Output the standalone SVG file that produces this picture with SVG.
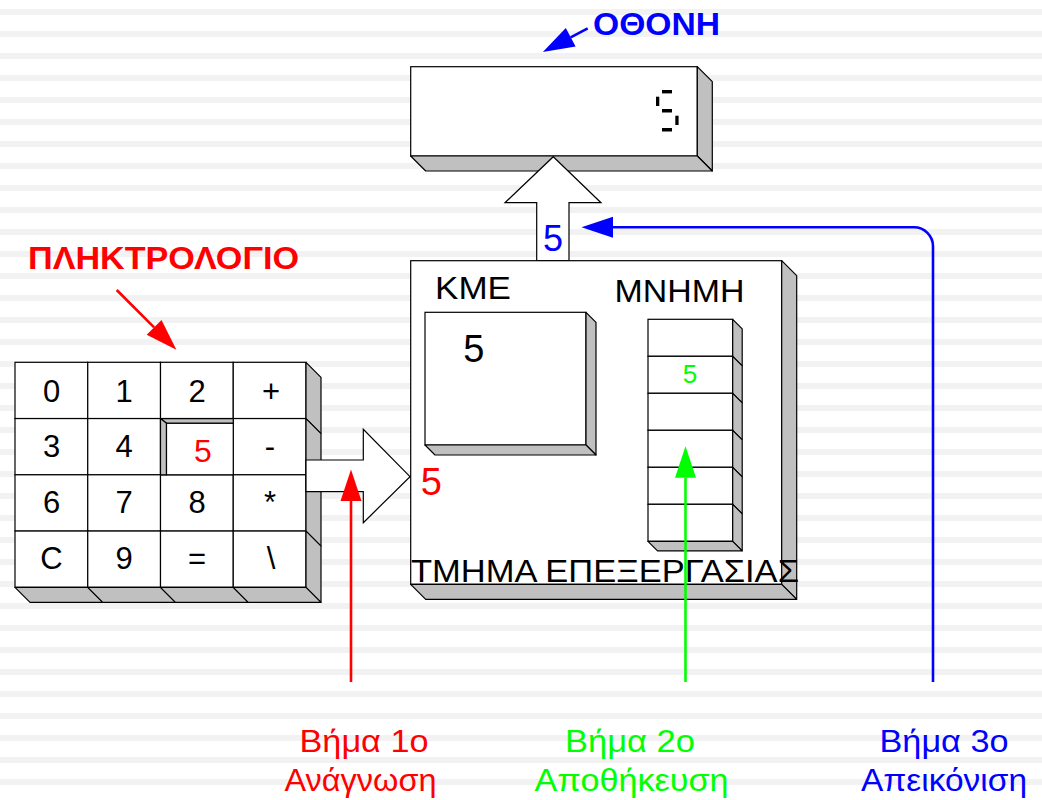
<svg xmlns="http://www.w3.org/2000/svg" width="1042" height="800" viewBox="0 0 1042 800">
<style>
.t{font-family:"Liberation Sans",Arial,sans-serif}
.b{font-weight:bold}
.face{fill:#ffffff;stroke:#000;stroke-width:1.2}
.side{fill:#c0c0c0;stroke:#000;stroke-width:1.2;stroke-linejoin:round}
.key{font-size:31px;text-anchor:middle;fill:#000}
.blk{fill:#ffffff;stroke:#000;stroke-width:1.2;stroke-linejoin:miter}
.seg{fill:#000}
.c{fill:none;stroke-width:2.6}
</style>
<defs>
<pattern id="stripes" patternUnits="userSpaceOnUse" x="0" y="9" width="1042" height="22">
<rect x="0" y="0" width="1042" height="6" fill="#f2f2f2"/>
</pattern>
<marker id="ah-red" markerUnits="userSpaceOnUse" markerWidth="32" markerHeight="22" refX="0" refY="10.5" orient="auto" overflow="visible"><path d="M0,0 L31.5,10.5 L0,21 z" fill="#ff0000"/></marker>
<marker id="ah-green" markerUnits="userSpaceOnUse" markerWidth="32" markerHeight="22" refX="0" refY="10.5" orient="auto" overflow="visible"><path d="M0,0 L31.5,10.5 L0,21 z" fill="#00ff00"/></marker>
<marker id="ah-blue" markerUnits="userSpaceOnUse" markerWidth="32" markerHeight="22" refX="0" refY="10.5" orient="auto" overflow="visible"><path d="M0,0 L31.5,10.5 L0,21 z" fill="#0000ff"/></marker>
</defs>
<rect x="0" y="0" width="1042" height="800" fill="#ffffff"/>
<rect x="0" y="0" width="1042" height="800" fill="url(#stripes)"/>

<g id="screen">
<rect class="face" x="410.7" y="66.7" width="286.6" height="89.3"/>
<polygon class="side" points="697.3,66.7 712.3,81.7 712.3,171 697.3,156"/>
<polygon class="side" points="410.7,156 425.7,171 712.3,171 697.3,156"/>
<rect class="seg" x="662" y="90" width="10" height="3.4"/>
<rect class="seg" x="656" y="96.7" width="3.3" height="9.3"/>
<rect class="seg" x="662" y="109" width="10" height="3.5"/>
<rect class="seg" x="675.3" y="115.7" width="3.3" height="9.3"/>
<rect class="seg" x="662" y="128" width="10" height="3.5"/>
</g>

<g id="screen-label">
<text class="t b" x="593" y="35" font-size="32" fill="#0000ff" textLength="127" lengthAdjust="spacingAndGlyphs">ΟΘΟΝΗ</text>
</g>

<g id="data-to-screen">
<polygon class="blk" points="553.3,156.7 601,202.7 569,202.7 569,260.7 536.7,260.7 536.7,202.7 505,202.7"/>
<text class="t" x="552.9" y="250.5" font-size="36" fill="#0000ff" text-anchor="middle">5</text>
</g>

<g id="processing-unit">
<rect class="face" x="410.7" y="260.7" width="371" height="323.6"/>
<polygon class="side" points="781.7,260.7 796.7,275.7 796.7,599.3 781.7,584.3"/>
<polygon class="side" points="410.7,584.3 425.7,599.3 796.7,599.3 781.7,584.3"/>
</g>

<g id="cpu">
<text class="t" x="435" y="299" font-size="32" fill="#000" textLength="76" lengthAdjust="spacingAndGlyphs">ΚΜΕ</text>
<rect class="face" x="425" y="312.3" width="161" height="132.7"/>
<polygon class="side" points="586,312.3 596,322.3 596,455 586,445"/>
<polygon class="side" points="425,445 435,455 596,455 586,445"/>
<text class="t" x="473.7" y="361.7" font-size="38" fill="#000" text-anchor="middle">5</text>
</g>

<g id="memory">
<text class="t" x="614.5" y="301.5" font-size="32" fill="#000" textLength="130" lengthAdjust="spacingAndGlyphs">ΜΝΗΜΗ</text>
<rect class="face" x="648" y="319.3" width="84.7" height="37"/>
<polygon class="side" points="732.7,319.3 742.2,328.8 742.2,365.8 732.7,356.3"/>
<rect class="face" x="648" y="356.3" width="84.7" height="37"/>
<polygon class="side" points="732.7,356.3 742.2,365.8 742.2,402.8 732.7,393.3"/>
<rect class="face" x="648" y="393.3" width="84.7" height="37"/>
<polygon class="side" points="732.7,393.3 742.2,402.8 742.2,439.8 732.7,430.3"/>
<rect class="face" x="648" y="430.3" width="84.7" height="37"/>
<polygon class="side" points="732.7,430.3 742.2,439.8 742.2,476.8 732.7,467.3"/>
<rect class="face" x="648" y="467.3" width="84.7" height="37"/>
<polygon class="side" points="732.7,467.3 742.2,476.8 742.2,513.8 732.7,504.3"/>
<rect class="face" x="648" y="504.3" width="84.7" height="37"/>
<polygon class="side" points="732.7,504.3 742.2,513.8 742.2,550.8 732.7,541.3"/>
<polygon class="side" points="648,541.3 657.5,550.8 742.2,550.8 732.7,541.3"/>
<text class="t" x="690" y="383" font-size="26" fill="#00ff00" text-anchor="middle">5</text>
</g>

<g id="processing-label">
<text class="t" x="411" y="581.7" font-size="32" fill="#000" textLength="388" lengthAdjust="spacingAndGlyphs">ΤΜΗΜΑ ΕΠΕΞΕΡΓΑΣΙΑΣ</text>
</g>

<g id="keyboard">
<rect class="face" x="15" y="362.3" width="72.75" height="56.25"/>
<rect class="face" x="87.75" y="362.3" width="72.75" height="56.25"/>
<rect class="face" x="160.5" y="362.3" width="72.75" height="56.25"/>
<rect class="face" x="233.25" y="362.3" width="72.75" height="56.25"/>
<rect class="face" x="15" y="418.55" width="72.75" height="56.25"/>
<rect class="face" x="87.75" y="418.55" width="72.75" height="56.25"/>
<rect class="face" x="160.5" y="418.55" width="72.75" height="56.25"/>
<rect class="face" x="233.25" y="418.55" width="72.75" height="56.25"/>
<rect class="face" x="15" y="474.8" width="72.75" height="56.25"/>
<rect class="face" x="87.75" y="474.8" width="72.75" height="56.25"/>
<rect class="face" x="160.5" y="474.8" width="72.75" height="56.25"/>
<rect class="face" x="233.25" y="474.8" width="72.75" height="56.25"/>
<rect class="face" x="15" y="531.05" width="72.75" height="56.25"/>
<rect class="face" x="87.75" y="531.05" width="72.75" height="56.25"/>
<rect class="face" x="160.5" y="531.05" width="72.75" height="56.25"/>
<rect class="face" x="233.25" y="531.05" width="72.75" height="56.25"/>
<polygon class="side" points="306,362.3 321,377.3 321,433.55 306,418.55"/>
<polygon class="side" points="306,418.55 321,433.55 321,489.8 306,474.8"/>
<polygon class="side" points="306,474.8 321,489.8 321,546.05 306,531.05"/>
<polygon class="side" points="306,531.05 321,546.05 321,602.3 306,587.3"/>
<polygon class="side" points="15,587.3 30,602.3 102.75,602.3 87.75,587.3"/>
<polygon class="side" points="87.75,587.3 102.75,602.3 175.5,602.3 160.5,587.3"/>
<polygon class="side" points="160.5,587.3 175.5,602.3 248.25,602.3 233.25,587.3"/>
<polygon class="side" points="233.25,587.3 248.25,602.3 321,602.3 306,587.3"/>
<polygon class="side" points="160.5,418.55 233.25,418.55 233.25,423.3 166.5,423.3"/>
<polygon class="side" points="160.5,418.55 166.5,423.3 166.5,474.8 160.5,474.8"/>
<rect class="face" x="166.5" y="423.3" width="66.75" height="51.5"/>
<text class="t key" x="51.5" y="401.7">0</text>
<text class="t key" x="124" y="401.7">1</text>
<text class="t key" x="197" y="401.7">2</text>
<text class="t key" x="271" y="401.7">+</text>
<text class="t key" x="51.5" y="457">3</text>
<text class="t key" x="124" y="457">4</text>
<text class="t" x="203" y="461.7" font-size="32" fill="#ff0000" text-anchor="middle">5</text>
<text class="t key" x="270" y="457">-</text>
<text class="t key" x="51.5" y="513">6</text>
<text class="t key" x="124" y="513">7</text>
<text class="t key" x="197" y="513">8</text>
<text class="t key" x="270" y="513">*</text>
<text class="t key" x="51.5" y="569">C</text>
<text class="t key" x="124" y="569">9</text>
<text class="t key" x="197" y="569">=</text>
<text class="t key" x="271" y="569">\</text>
</g>

<g id="keyboard-label">
<text class="t b" x="28" y="269.3" font-size="31.5" fill="#ff0000" textLength="271" lengthAdjust="spacingAndGlyphs">ΠΛΗΚΤΡΟΛΟΓΙΟ</text>
</g>

<g id="data-to-cpu">
<polygon class="blk" points="306,460 363.3,460 363.3,429.3 410,476.7 363.3,522.7 363.3,491.7 306,491.7"/>
<text class="t" x="431.2" y="495" font-size="38" fill="#ff0000" text-anchor="middle">5</text>
</g>

<g id="step-labels">
<text class="t" x="299.5" y="752" font-size="32" fill="#ff0000" textLength="129" lengthAdjust="spacingAndGlyphs">Βήμα 1ο</text>
<text class="t" x="284.5" y="791" font-size="32" fill="#ff0000" textLength="152" lengthAdjust="spacingAndGlyphs">Ανάγνωση</text>
<text class="t" x="565" y="752" font-size="32" fill="#00ff00" textLength="130" lengthAdjust="spacingAndGlyphs">Βήμα 2ο</text>
<text class="t" x="534.5" y="791" font-size="32" fill="#00ff00" textLength="194" lengthAdjust="spacingAndGlyphs">Αποθήκευση</text>
<text class="t" x="879.5" y="752" font-size="32" fill="#0000ff" textLength="129" lengthAdjust="spacingAndGlyphs">Βήμα 3ο</text>
<text class="t" x="861" y="791" font-size="32" fill="#0000ff" textLength="166" lengthAdjust="spacingAndGlyphs">Απεικόνιση</text>
</g>

<g id="connectors">
<line class="c" x1="587.7" y1="28.3" x2="570.7" y2="37.3" stroke="#0000ff" marker-end="url(#ah-blue)"/>
<line class="c" x1="116.7" y1="290" x2="154.1" y2="327.4" stroke="#ff0000" marker-end="url(#ah-red)"/>
<line class="c" x1="351" y1="682" x2="351" y2="501" stroke="#ff0000" marker-end="url(#ah-red)"/>
<line class="c" x1="685.5" y1="682" x2="685.5" y2="477.7" stroke="#00ff00" marker-end="url(#ah-green)"/>
<path class="c" d="M933,682 V246.3 A19,19 0 0 0 914,227.3 H613" stroke="#0000ff" marker-end="url(#ah-blue)"/>
</g>
</svg>
